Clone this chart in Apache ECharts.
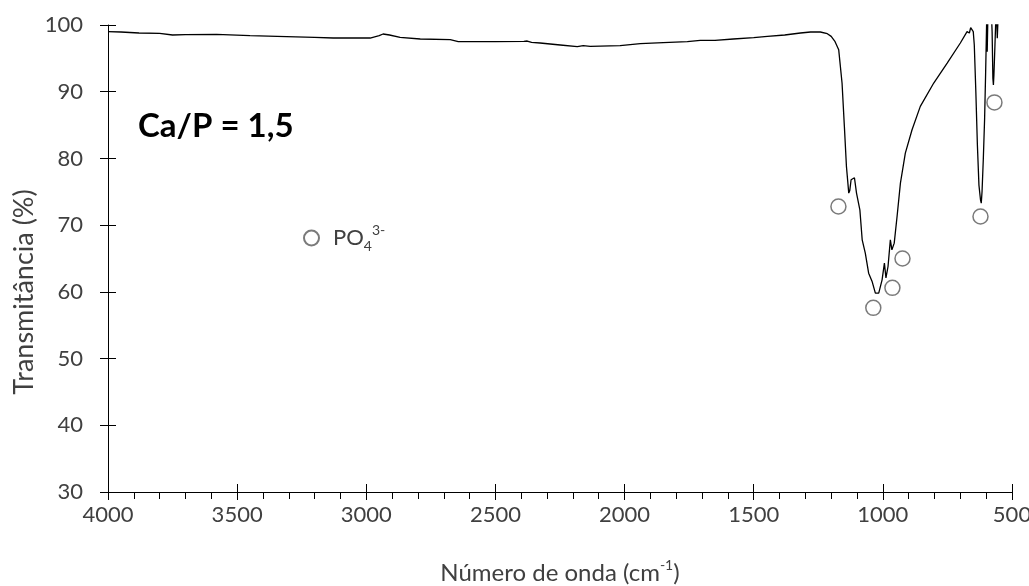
<!DOCTYPE html>
<html>
<head>
<meta charset="utf-8">
<script src="https://cdn.jsdelivr.net/npm/echarts@6/dist/echarts.min.js"></script>
<style>
    html, body { margin: 0; padding: 0; background: #fff; }
    #chart { width: 1029px; height: 586px; }
</style>
</head>
<body>
<div id="chart"></div>
<script>
// FTIR spectrum: wavenumber (cm-1) and transmittance (%)
const waveNumbers = [
    4000, 3950, 3880, 3800, 3750, 3700, 3580, 3450, 3345, 3200, 3128, 2985, 2950, 2935, 2910, 2869,
    2791, 2675, 2644, 2500, 2390, 2377, 2360, 2327, 2249, 2183, 2160, 2133, 2017, 1939, 1850, 1757,
    1707, 1650, 1579, 1500, 1447, 1380, 1319, 1280, 1242, 1215, 1200, 1185, 1171, 1158, 1149, 1141,
    1132, 1128, 1123, 1110, 1102, 1089, 1080, 1068, 1055, 1042, 1029, 1016, 1003, 994, 988, 980,
    971, 965, 956, 945, 932, 913, 887, 855, 803, 751, 700, 674, 665, 660, 655, 650,
    646, 640, 634, 628, 622, 619, 616, 611, 606, 602, 598, 596, 593, 588, 580, 577,
    574, 572, 570, 566, 563, 560, 557, 554, 550
];
const transmittance = [
    99.0, 98.95, 98.8, 98.75, 98.5, 98.55, 98.6, 98.4, 98.3, 98.15, 98.05, 98.05, 98.4, 98.65, 98.5, 98.15,
    97.9, 97.8, 97.5, 97.5, 97.55, 97.6, 97.4, 97.3, 97.0, 96.75, 96.9, 96.8, 96.9, 97.2, 97.35, 97.5,
    97.7, 97.7, 97.9, 98.1, 98.3, 98.5, 98.8, 98.95, 98.95, 98.7, 98.3, 97.5, 96.3, 91.3, 84.8, 78.8,
    74.8, 75.2, 76.8, 77.1, 74.8, 72.3, 67.8, 65.8, 62.8, 61.6, 59.8, 59.8, 61.8, 64.3, 62.1, 63.8,
    67.8, 66.3, 67.3, 71.3, 76.3, 80.8, 84.3, 87.8, 91.3, 94.3, 97.3, 99.0, 98.8, 99.6, 99.8, 99.0,
    97.0, 90.0, 82.0, 76.0, 73.8, 73.3, 75.0, 80.0, 86.0, 93.0, 100.8, 96.0, 102.0, 103.0, 102.0, 99.0,
    92.0, 91.0, 92.5, 97.0, 100.5, 102.0, 98.0, 101.0, 103.0
];

// PO4 3- band markers
const peakWaveNumbers = [1172, 1037, 963, 924, 622, 568];
const peakTransmittance = [72.8, 57.6, 60.6, 65.0, 71.3, 88.4];

// axis ranges
const xMin = 500, xMax = 4000, xStep = 500;
const yMin = 30, yMax = 100, yStep = 10;

const FONT = 'Lato';
const TEXT_COLOR = '#404040';

var chart = echarts.init(document.getElementById('chart'));

var spectrum = waveNumbers.map((w, i) => [w, transmittance[i]]);
var peaks = peakWaveNumbers.map((w, i) => [w, peakTransmittance[i]]);

var supRich = {
    a: { fontFamily: FONT, fontSize: 24, color: TEXT_COLOR, lineHeight: 30 },
    pad: { fontFamily: FONT, fontSize: 22, color: TEXT_COLOR, lineHeight: 30, padding: [0, 0, 0, 9] },
    sub: { fontFamily: FONT, fontSize: 14, color: TEXT_COLOR, lineHeight: 12, verticalAlign: 'bottom' },
    sup: { fontFamily: FONT, fontSize: 14, color: TEXT_COLOR, lineHeight: 12, verticalAlign: 'top' }
};

var axisBase = {
    type: 'value',
    splitLine: { show: false }
};

var option = {
    animation: false,
    backgroundColor: '#fff',
    grid: { left: 108, right: 17, top: 25, bottom: 94, outerBoundsMode: 'none' },
    title: {
        text: 'Ca/P = 1,5',
        left: 133,
        top: 105,
        textStyle: { fontFamily: FONT, fontWeight: 'bold', fontSize: 33, color: '#000' }
    },
    legend: {
        data: ['PO4'],
        left: 298,
        top: 218,
        itemWidth: 15,
        itemHeight: 15,
        formatter: function () { return '{pad|PO}{sub|4}{sup|3-}'; },
        textStyle: { rich: supRich }
    },
    xAxis: [
        Object.assign({}, axisBase, {
            min: xMin, max: xMax, interval: xStep,
            inverse: true,
            axisLine: { show: true, onZero: false, lineStyle: { color: '#000', width: 1 } },
            axisTick: { show: true, length: 8, lineStyle: { color: '#000' } },
            minorTick: { show: true, splitNumber: 5, length: 7, lineStyle: { color: '#000' } },
            axisLabel: {
                margin: 12, fontFamily: FONT, fontSize: 22, color: TEXT_COLOR,
                formatter: function (v) { return String(v); }
            },
            name: '{a|Número de onda (cm}{sup|-1}{a|)}',
            nameLocation: 'middle',
            nameGap: 66,
            nameTextStyle: { rich: supRich }
        }),
        // inner half of the crossing major ticks
        Object.assign({}, axisBase, {
            min: xMin, max: xMax, interval: xStep,
            inverse: true,
            position: 'bottom',
            axisLine: { show: false, onZero: false },
            axisTick: { show: true, inside: true, length: 8, lineStyle: { color: '#000' } },
            axisLabel: { show: false }
        })
    ],
    yAxis: [
        Object.assign({}, axisBase, {
            min: yMin, max: yMax, interval: yStep,
            axisLine: { show: true, onZero: false, lineStyle: { color: '#000', width: 1 } },
            axisTick: { show: true, length: 8, lineStyle: { color: '#000' } },
            axisLabel: { margin: 25, fontFamily: FONT, fontSize: 22, color: TEXT_COLOR }
        }),
        Object.assign({}, axisBase, {
            min: yMin, max: yMax, interval: yStep,
            position: 'left',
            axisLine: { show: false, onZero: false },
            axisTick: { show: true, inside: true, length: 8, lineStyle: { color: '#000' } },
            axisLabel: { show: false }
        })
    ],
    graphic: [{
        type: 'text',
        x: 24,
        y: 292,
        rotation: Math.PI / 2,
        style: {
            text: 'Transmitância (%)',
            font: '27px ' + FONT,
            fill: TEXT_COLOR,
            align: 'center',
            verticalAlign: 'middle'
        }
    }],
    series: [{
        name: 'spectrum',
        type: 'line',
        data: spectrum,
        showSymbol: false,
        clip: true,
        lineStyle: { color: '#000', width: 1.3 },
        z: 2
    }, {
        name: 'PO4',
        type: 'scatter',
        data: peaks,
        symbol: 'circle',
        symbolSize: 15,
        itemStyle: { color: '#fff', borderColor: '#595959', borderWidth: 1.5 },
        z: 3
    }]
};

chart.setOption(option);
</script>
</body>
</html>
